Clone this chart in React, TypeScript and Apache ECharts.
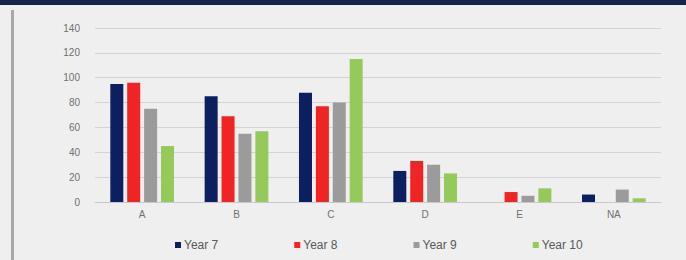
import React, { useEffect, useRef } from "react";
import * as echarts from "echarts";

const categories = ["A", "B", "C", "D", "E", "NA"];
const year7 = [95, 85, 88, 25, 0, 6];
const year8 = [96, 69, 77, 33, 8, 0];
const year9 = [75, 55, 80, 30, 5, 10];
const year10 = [45, 57, 115, 23, 11, 3];
const seriesNames = ["Year 7", "Year 8", "Year 9", "Year 10"];
const colors = ["#0c1f5e", "#f02424", "#9b9b9b", "#96c95c"];

export default function App() {
  const ref = useRef<HTMLDivElement>(null);
  useEffect(() => {
    document.body.style.margin = "0";
    const chart = echarts.init(ref.current!, null, { renderer: "svg" });
    const data = [year7, year8, year9, year10];
    chart.setOption({
      animation: false,
      backgroundColor: "#efefef",
      textStyle: { fontFamily: "Arial, 'Liberation Sans', sans-serif" },
      graphic: [
        { type: "rect", shape: { x: 0, y: 0, width: 686, height: 5 }, style: { fill: "#142548" } },
        { type: "rect", shape: { x: 11, y: 10, width: 3, height: 250 }, style: { fill: "#a8a8a8" } },
      ],
      grid: { left: 95, right: 25, top: 28, bottom: 58 },
      legend: {
        data: seriesNames,
        left: 170,
        top: 234,
        itemWidth: 6,
        itemHeight: 6,
        itemGap: 76,
        icon: "rect",
        textStyle: { color: "#595959", fontSize: 12, padding: [0, 0, 0, -2] },
      },
      xAxis: {
        type: "category",
        data: categories,
        axisTick: { show: false },
        axisLine: { lineStyle: { color: "#c8c8c8" } },
        axisLabel: { color: "#707070", fontSize: 10, margin: 7 },
      },
      yAxis: {
        type: "value",
        min: 0,
        max: 140,
        interval: 20,
        axisLine: { show: false },
        axisTick: { show: false },
        axisLabel: { color: "#707070", fontSize: 10, margin: 15 },
        splitLine: { lineStyle: { color: "#d3d3d3" } },
      },
      series: seriesNames.map((n, i) => ({
        name: n,
        type: "bar",
        data: data[i],
        barWidth: 13,
        barGap: "30%",
        itemStyle: { color: colors[i] },
      })),
    });
    return () => chart.dispose();
  }, []);
  return <div ref={ref} style={{ width: 686, height: 260 }} />;
}
